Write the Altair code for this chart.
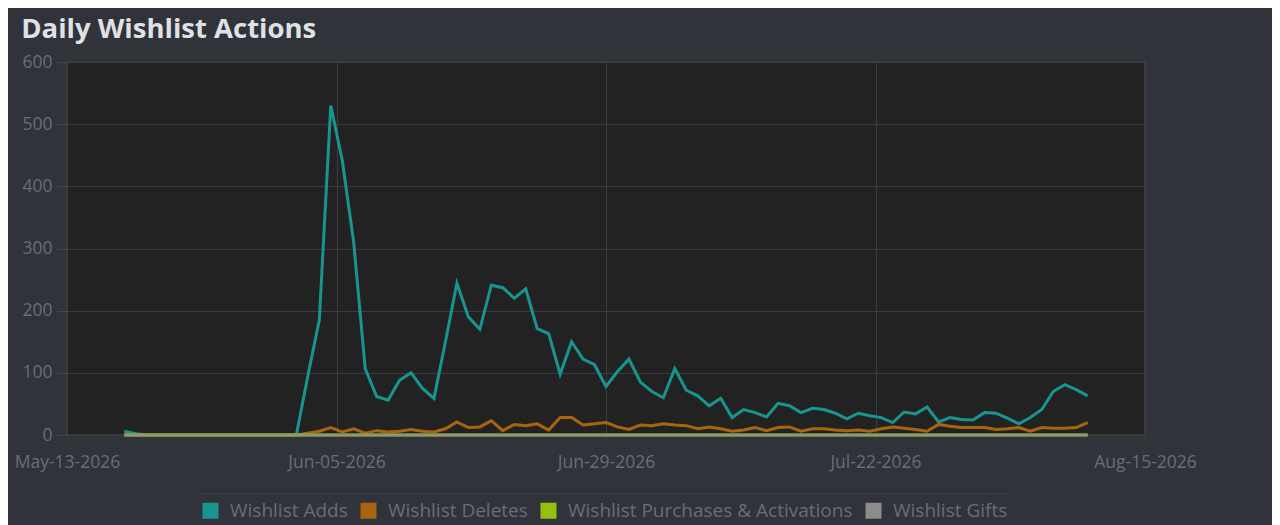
import altair as alt
import pandas as pd

# ---------------- data ----------------
start_date = "2026-05-18"

series_names = [
    "Wishlist Adds",
    "Wishlist Deletes",
    "Wishlist Purchases & Activations",
    "Wishlist Gifts",
]
series_colors = ["#17968f", "#a8650f", "#93c20e", "#8c8c8c"]

adds = [6, 2, 0, 0, 0, 0, 0, 0, 0, 0, 0, 0, 0, 0, 0, 0,
        95, 185, 530, 442, 310, 107, 62, 56, 88, 100,
        75, 59, 150, 244, 190, 170, 241, 237, 220, 235,
        171, 163, 98, 150, 122, 113, 78, 102, 122, 85,
        70, 60, 107, 72, 63, 47, 59, 28, 41, 36,
        29, 51, 47, 36, 43, 41, 35, 26, 35, 31,
        28, 20, 37, 34, 45, 21, 28, 25, 24, 36,
        35, 27, 18, 28, 41, 70, 81, 73, 63]

deletes = [0, 0, 0, 0, 0, 0, 0, 0, 0, 0, 0, 0, 0, 0, 0, 0,
           3, 6, 12, 5, 10, 3, 7, 5, 6, 9,
           6, 5, 10, 21, 12, 13, 23, 7, 17, 15,
           18, 8, 28, 28, 16, 18, 20, 13, 9, 16,
           15, 18, 16, 15, 10, 13, 10, 6, 8, 12,
           7, 12, 13, 6, 10, 10, 8, 7, 8, 6,
           10, 13, 11, 9, 6, 17, 14, 12, 12, 12,
           9, 10, 12, 6, 12, 11, 11, 12, 20]

purchases = [0] * len(adds)
gifts = [0] * len(adds)

y_ticks = [0, 100, 200, 300, 400, 500, 600]

# ---------------- table ----------------
dates = pd.date_range(start_date, periods=len(adds), freq="D").strftime("%Y-%m-%dT00:00:00")
rows = []
for name, vals in zip(series_names, [adds, deletes, purchases, gifts]):
    for d, v in zip(dates, vals):
        rows.append({"date": d, "series": name, "value": v})
df = pd.DataFrame(rows)

label_color = "#6a6d73"
grid_color = "#3c3c3c"

x_enc = alt.X(
    "date:T",
    scale=alt.Scale(
        domain=[alt.DateTime(year=2026, month=5, date=13),
                alt.DateTime(year=2026, month=8, date=15)],
        nice=False,
    ),
    axis=alt.Axis(
        values=[
            alt.DateTime(year=2026, month=5, date=13),
            alt.DateTime(year=2026, month=6, date=5, hours=12),
            alt.DateTime(year=2026, month=6, date=29),
            alt.DateTime(year=2026, month=7, date=22, hours=12),
            alt.DateTime(year=2026, month=8, date=15),
        ],
        format="%b-%d-%Y",
        title=None,
        domain=False,
        grid=True,
        gridColor=grid_color,
        tickColor=grid_color,
        tickSize=8,
        labelColor=label_color,
        labelFont="Open Sans",
        labelFontSize=17.5,
        labelPadding=10,
        labelFlush=False,
        labelOverlap=False,
    ),
)
y_enc = alt.Y(
    "value:Q",
    scale=alt.Scale(domain=[0, 600], nice=False),
    axis=alt.Axis(
        values=y_ticks,
        title=None,
        domain=False,
        grid=True,
        gridColor=grid_color,
        tickColor="#45474d",
        tickSize=10,
        labelColor=label_color,
        labelFont="Open Sans",
        labelFontSize=17.5,
        labelPadding=5,
    ),
)

main_lines = (
    alt.Chart(df[df["series"] != "Wishlist Gifts"])
    .mark_line(strokeWidth=3, interpolate="linear")
    .encode(
        x=x_enc,
        y=y_enc,
        color=alt.Color(
            "series:N",
            scale=alt.Scale(domain=series_names, range=series_colors),
            sort=series_names,
            legend=alt.Legend(
                title=None,
                orient="none",
                legendX=134,
                legendY=439,
                direction="horizontal",
                symbolType="square",
                symbolSize=64,
                symbolStrokeWidth=8,
                labelFont="Open Sans",
                labelFontSize=19,
                labelColor=label_color,
                labelLimit=0,
                labelOffset=10,
                columnPadding=0,
                padding=0,
            ),
        ),
    )
)

gift_line = (
    alt.Chart(df[df["series"] == "Wishlist Gifts"])
    .mark_line(strokeWidth=3, color=series_colors[3], opacity=0.75)
    .encode(x="date:T", y="value:Q")
)

separator = (
    alt.Chart(pd.DataFrame({"k": [0]}))
    .mark_rule(color="#3d4048", strokeWidth=1)
    .encode(x=alt.value(133), x2=alt.value(943), y=alt.value(432))
)

chart = (
    alt.layer(separator, main_lines, gift_line)
    .properties(
        width=1078,
        height=373,
        padding={"left": 59, "top": 54, "right": 127, "bottom": 90},
        autosize=alt.AutoSizeParams(type="none"),
        background="#30333a",
        title=alt.Title(
            "Daily Wishlist Actions",
            anchor="start",
            font="Open Sans",
            fontSize=27.5,
            fontWeight="bold",
            color="#dfe1e3",
            offset=10,
            dx=7,
        ),
    )
    .configure_view(fill="#222222", stroke="#3b3b3b", strokeWidth=2)
)

chart.save("out.html", embed_options={"renderer": "svg", "actions": False})
